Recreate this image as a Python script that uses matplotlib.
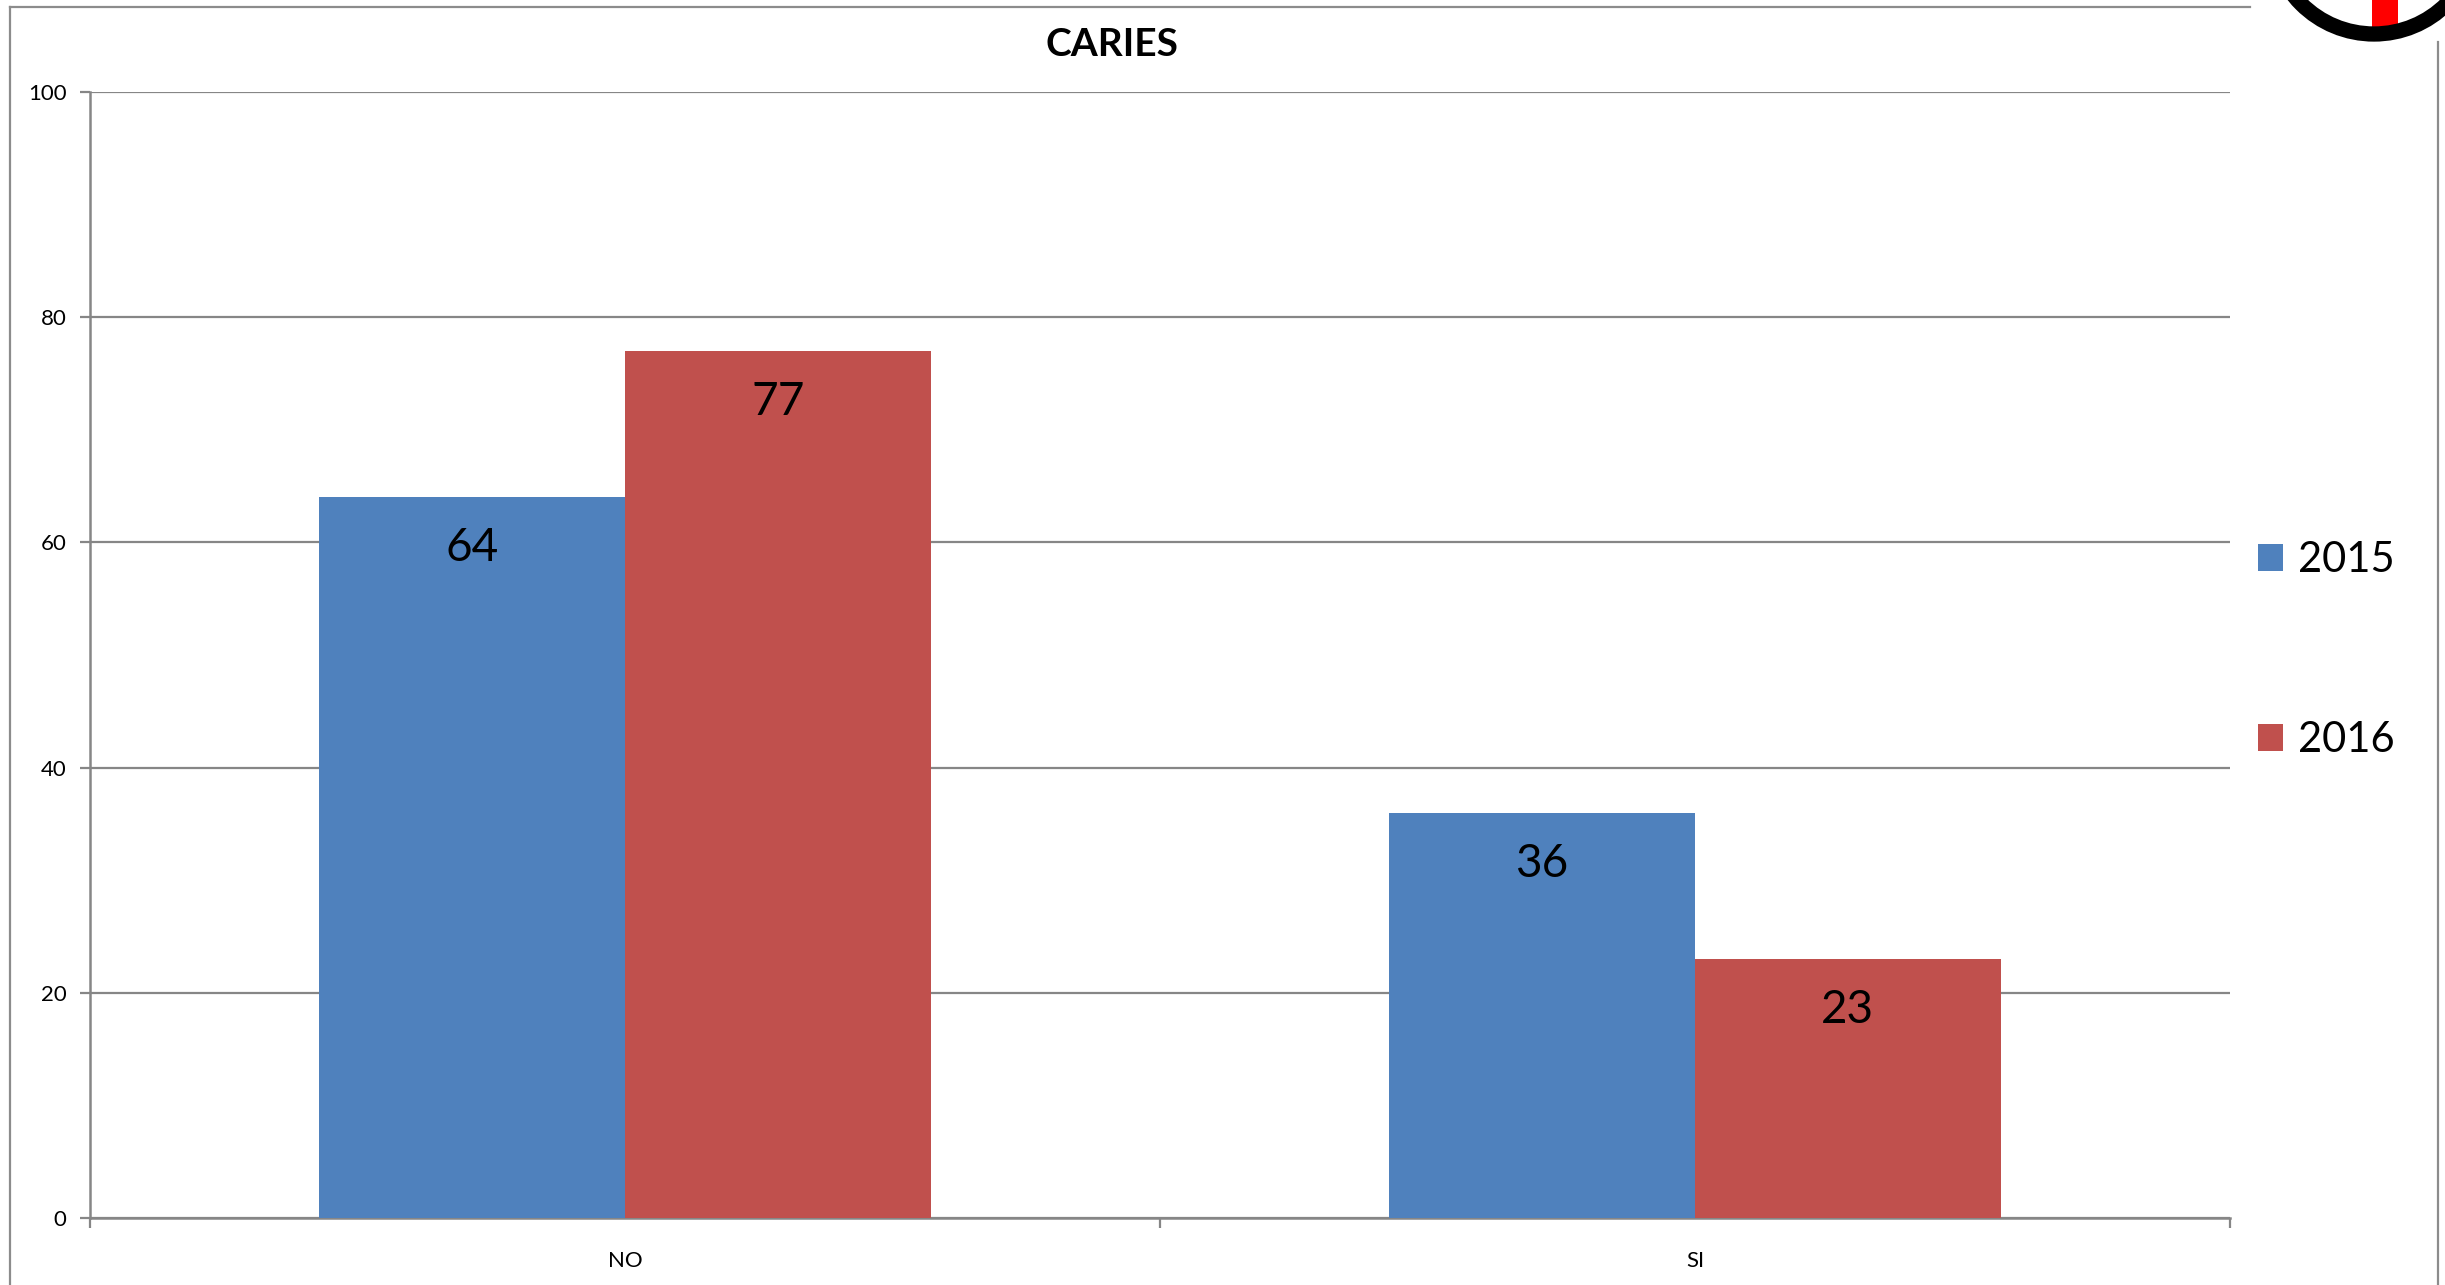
import numpy as np
import matplotlib
matplotlib.use("Agg")
from matplotlib import pyplot as plt
from matplotlib.lines import Line2D
from matplotlib.patches import Circle, Rectangle

# datos del grafico
categorias = ["NO", "SI"]
anios = ["2015", "2016"]
valores_2015 = [64, 36]
valores_2016 = [77, 23]
colores = ["#4F81BD", "#C0504D"]
ticks_y = [0, 20, 40, 60, 80, 100]

plt.rcParams['font.family'] = ['Lato', 'DejaVu Sans']

W, H = 2445, 1285
fig = plt.figure(figsize=(W / 100, H / 100), dpi=100)
ax = fig.add_axes([90 / W, 1 - 1218 / H, (2230 - 90) / W, (1218 - 92) / H])

x = np.arange(len(categorias))
ancho = 0.2857
barras1 = ax.bar(x - ancho / 2, valores_2015, ancho, color=colores[0], label=anios[0], zorder=3)
barras2 = ax.bar(x + ancho / 2, valores_2016, ancho, color=colores[1], label=anios[1], zorder=3)

# etiquetas de valor dentro de la barra, arriba
for barras in (barras1, barras2):
    for b in barras:
        ax.annotate(str(int(b.get_height())),
                    xy=(b.get_x() + b.get_width() / 2, b.get_height()),
                    xytext=(0, -21.5), textcoords="offset points",
                    ha="center", va="top", fontsize=33, color="black", zorder=4)

ax.set_xlim(-0.5, 1.5)
ax.set_ylim(0, 100)
ax.set_yticks(ticks_y)
ax.set_yticklabels([str(v) for v in ticks_y])
ax.yaxis.grid(True, color="#868686", linewidth=1.6, zorder=0)
ax.set_axisbelow(True)

ax.set_xticks(x)
ax.set_xticklabels(categorias)
ax.set_xticks([-0.5, 0.5, 1.5], minor=True)
ax.tick_params(axis="x", which="major", length=0, pad=24, labelsize=16)
ax.tick_params(axis="x", which="minor", length=7, width=1.6, color="#868686", direction="out")
ax.tick_params(axis="y", length=7, width=1.6, color="#868686", direction="out", labelsize=16, pad=10)

for lado in ("top", "right"):
    ax.spines[lado].set_visible(False)
for lado in ("left", "bottom"):
    ax.spines[lado].set_color("#868686")
    ax.spines[lado].set_linewidth(1.8)

fig.text(1112 / W, 1 - 45 / H, "CARIES", ha="center", va="center",
         fontsize=28, fontweight="bold")

leg = fig.legend(handles=[barras1, barras2], labels=anios, loc="center left",
                 bbox_to_anchor=(2220 / W, 1 - 650 / H), frameon=False,
                 fontsize=30, handlelength=0.62, handleheight=0.62,
                 handletextpad=0.35, labelspacing=3.4)

# marco exterior
gris = "#8C8C8C"
fig.add_artist(Line2D([10 / W, 10 / W], [0, 1 - 7 / H], transform=fig.transFigure, color=gris, lw=1.6))
fig.add_artist(Line2D([10 / W, 2250 / W], [1 - 7 / H, 1 - 7 / H], transform=fig.transFigure, color=gris, lw=1.6))
fig.add_artist(Line2D([2438 / W, 2438 / W], [0, 1 - 42 / H], transform=fig.transFigure, color=gris, lw=1.6))

# sello en la esquina superior derecha
fig.add_artist(Rectangle((2372, H - 27), 26, 27, transform=None, facecolor="#FF0000", edgecolor="none"))
fig.add_artist(Circle((2374, H + 69), 103, transform=None, fill=False, edgecolor="black", linewidth=11))

fig.savefig("out.png", dpi=100, facecolor="white")
